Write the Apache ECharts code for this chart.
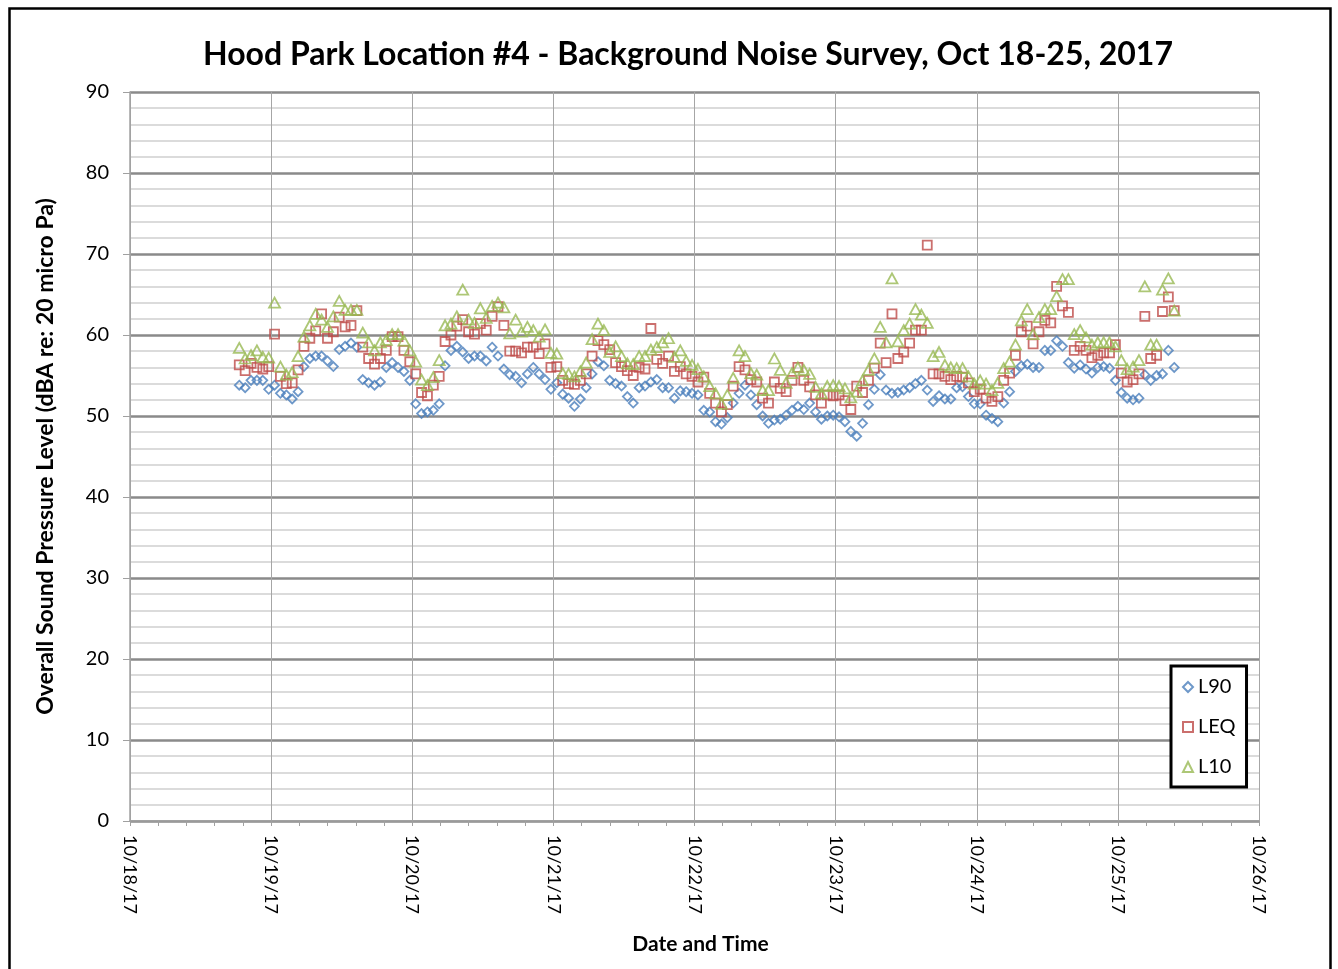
<!DOCTYPE html>
<html>
<head>
<meta charset="utf-8">
<script src="https://cdn.jsdelivr.net/npm/echarts@6/dist/echarts.min.js"></script>
<style>
  html, body { margin: 0; padding: 0; background: #fff; }
  #chart { width: 1338px; height: 969px; }
</style>
</head>
<body>
<div id="chart"></div>
<script>
// Axis tick labels (one per day, 10/18 through 10/26)
const dateLabels = ['10/18/17', '10/19/17', '10/20/17', '10/21/17', '10/22/17',
                    '10/23/17', '10/24/17', '10/25/17', '10/26/17'];

// First reading: 10/18/17 18:35, then one reading per hour
const firstReadingHour = 18 + 35 / 60;

// Hourly sound levels, dBA
const L90 = [
  53.8, 53.5, 54.4, 54.4, 54.4, 53.3, 53.8, 52.8, 52.6, 52.1,
  53.0, 56.1, 57.1, 57.4, 57.4, 56.8, 56.1, 58.2, 58.6, 59.0,
  58.5, 54.5, 54.1, 53.8, 54.2, 56.0, 56.6, 56.0, 55.5, 54.4,
  51.5, 50.3, 50.5, 50.7, 51.5, 56.2, 58.1, 58.6, 57.9, 57.1,
  57.4, 57.4, 56.8, 58.5, 57.4, 55.8, 55.1, 54.9, 54.1, 55.2,
  56.0, 55.2, 54.5, 53.3, 54.1, 52.7, 52.2, 51.2, 52.1, 53.5,
  55.2, 56.7, 56.2, 54.4, 54.0, 53.7, 52.4, 51.6, 53.5, 53.7,
  54.2, 54.5, 53.5, 53.5, 52.2, 53.1, 53.0, 52.8, 52.6, 50.7,
  50.5, 49.3, 49.0, 49.8, 51.6, 52.8, 53.8, 52.6, 51.4, 50.0,
  49.1, 49.5, 49.6, 50.1, 50.7, 51.2, 50.8, 51.6, 50.5, 49.6,
  50.0, 50.1, 49.9, 49.3, 48.1, 47.5, 49.1, 51.4, 53.3, 55.1,
  53.2, 52.8, 52.9, 53.2, 53.5, 54.0, 54.4, 53.2, 51.8, 52.5,
  52.1, 52.1, 53.5, 53.6, 52.4, 51.5, 51.5, 50.1, 49.7, 49.3,
  51.6, 53.0, 55.5, 56.2, 56.4, 56.0, 56.0, 58.1, 58.1, 59.3,
  58.6, 56.6, 55.9, 56.3, 55.8, 55.3, 56.0, 56.1, 55.9, 54.4,
  52.9, 52.2, 52.0, 52.2, 55.1, 54.4, 55.0, 55.2, 58.1, 56.0
];

const LEQ = [
  56.3, 55.6, 56.5, 56.0, 55.8, 56.1, 60.1, 54.9, 54.0, 54.1,
  55.7, 58.6, 59.6, 60.5, 62.6, 59.6, 60.4, 62.2, 61.0, 61.2,
  63.0, 58.5, 57.1, 56.4, 57.1, 58.1, 59.8, 59.8, 58.1, 56.7,
  55.2, 52.9, 52.5, 53.8, 54.9, 59.2, 60.0, 61.1, 61.9, 60.4,
  60.1, 61.4, 60.6, 62.3, 63.5, 61.2, 58.0, 58.0, 57.8, 58.5,
  58.5, 57.7, 58.9, 56.0, 56.1, 54.4, 54.0, 53.9, 54.4, 55.2,
  57.4, 59.3, 58.8, 58.2, 56.6, 56.1, 55.6, 55.0, 56.0, 55.8,
  60.8, 57.0, 56.5, 57.4, 55.5, 56.1, 55.2, 54.9, 54.2, 54.8,
  52.8, 51.6, 50.5, 51.4, 53.7, 56.1, 55.7, 54.5, 54.2, 52.2,
  51.6, 54.2, 53.4, 53.0, 54.4, 56.0, 54.4, 53.6, 52.6, 51.6,
  52.6, 52.5, 52.6, 51.9, 50.8, 53.7, 52.9, 54.4, 55.9, 59.0,
  56.6, 62.6, 57.1, 57.9, 59.0, 60.6, 60.6, 71.1, 55.2, 55.2,
  54.9, 54.5, 54.9, 54.8, 54.1, 53.0, 53.3, 52.2, 51.8, 52.4,
  54.4, 55.3, 57.5, 60.4, 61.1, 58.9, 60.4, 61.8, 61.5, 66.0,
  63.6, 62.8, 58.1, 58.6, 58.1, 57.2, 57.5, 57.8, 57.8, 58.8,
  55.3, 54.2, 54.5, 55.2, 62.3, 57.1, 57.5, 62.9, 64.7, 63.0
];

const L10 = [
  58.4, 57.1, 57.5, 58.1, 57.3, 57.2, 64.0, 56.1, 55.1, 55.4,
  57.4, 59.8, 61.2, 62.6, 61.9, 61.0, 62.3, 64.2, 63.1, 63.1,
  63.1, 60.3, 59.1, 58.1, 59.1, 59.4, 60.1, 60.1, 59.3, 58.1,
  56.7, 54.5, 53.8, 54.8, 56.9, 61.2, 61.4, 62.3, 65.6, 61.9,
  61.5, 63.3, 62.1, 63.6, 64.0, 63.4, 60.2, 61.9, 60.4, 61.0,
  60.6, 59.8, 60.7, 57.8, 57.7, 55.3, 55.2, 54.9, 55.5, 56.6,
  59.5, 61.4, 60.6, 57.9, 58.6, 57.4, 56.5, 56.4, 57.4, 57.4,
  58.2, 58.5, 59.1, 59.6, 57.3, 58.1, 56.8, 56.3, 55.8, 54.9,
  53.7, 52.8, 51.5, 52.6, 54.7, 58.1, 57.4, 55.3, 55.1, 53.2,
  53.2, 57.1, 55.7, 54.1, 55.3, 56.0, 55.7, 55.2, 53.6, 52.8,
  53.7, 53.8, 53.7, 53.4, 52.3, 53.0, 54.4, 55.7, 57.1, 61.0,
  59.1, 67.0, 59.2, 60.6, 61.4, 63.2, 62.5, 61.5, 57.4, 57.9,
  56.3, 56.0, 55.9, 55.9, 54.9, 54.0, 54.4, 54.0, 53.2, 54.1,
  55.9, 56.7, 58.8, 61.8, 63.2, 60.1, 62.2, 63.2, 63.2, 64.8,
  66.9, 66.9, 60.1, 60.6, 59.7, 58.8, 59.1, 59.1, 59.1, 58.6,
  56.9, 55.8, 56.1, 56.9, 66.0, 58.8, 58.8, 65.6, 67.0, 63.0
];

// x position in days since 10/18/17 00:00
function toPoints(values) {
  return values.map((v, i) => [(firstReadingHour + i) / 24, v]);
}

const FONT = 'Lato, "Open Sans", sans-serif';

function seriesOf(name, values, symbol, size, color) {
  return {
    name: name,
    type: 'scatter',
    data: toPoints(values),
    symbol: symbol,
    symbolSize: size,
    itemStyle: { color: 'transparent', borderColor: color, borderWidth: 1.8 },
    emphasis: { disabled: true },
    animation: false
  };
}

const chart = echarts.init(document.getElementById('chart'), null, { renderer: 'canvas' });

chart.setOption({
  backgroundColor: '#fff',
  animation: false,
  title: {
    text: 'Hood Park Location #4 - Background Noise Survey, Oct 18-25, 2017',
    left: 683,
    top: 34,
    textAlign: 'center',
    textStyle: { fontFamily: FONT, fontWeight: 'bold', fontSize: 32, color: '#000' }
  },
  graphic: [{
    type: 'rect',
    silent: true,
    shape: { x: 9.5, y: 8.5, width: 1321, height: 1000 },
    style: { fill: 'none', stroke: '#000', lineWidth: 2.5 }
  }],
  legend: {
    orient: 'vertical',
    left: 1171,
    top: 666,
    padding: [11, 11, 10, 11],
    itemGap: 20,
    itemWidth: 10,
    itemHeight: 10,
    borderColor: '#000',
    borderWidth: 3,
    backgroundColor: '#fff',
    textStyle: { fontFamily: FONT, fontSize: 20, color: '#000' },
    data: ['L90', 'LEQ', 'L10']
  },
  grid: { left: 130, right: 79, top: 92, bottom: 148, containLabel: false },
  xAxis: {
    type: 'value',
    min: 0,
    max: 8,
    interval: 1,
    name: 'Date and Time',
    nameLocation: 'middle',
    nameGap: 113,
    nameTextStyle: { fontFamily: FONT, fontWeight: 'bold', fontSize: 21, color: '#000', padding: [0, 0, 0, 12] },
    axisLine: { show: true, lineStyle: { color: '#a0a0a0', width: 1.5 } },
    axisTick: { show: true, length: 5, lineStyle: { color: '#a0a0a0' } },
    minorTick: { show: true, splitNumber: 5, length: 5, lineStyle: { color: '#a0a0a0' } },
    splitLine: { show: true, lineStyle: { color: '#a6a6a6', width: 1 } },
    axisLabel: {
      rotate: -90,
      margin: 14,
      fontFamily: FONT,
      fontSize: 18,
      color: '#000',
      formatter: (v) => dateLabels[Math.round(v)]
    }
  },
  yAxis: {
    type: 'value',
    min: 0,
    max: 90,
    interval: 10,
    name: 'Overall Sound Pressure Level (dBA re: 20 micro Pa)',
    nameLocation: 'middle',
    nameGap: 73,
    nameTextStyle: { fontFamily: FONT, fontWeight: 'bold', fontSize: 23, color: '#000' },
    axisLine: { show: true, lineStyle: { color: '#a0a0a0', width: 1.5 } },
    axisTick: { show: true, length: 7, lineStyle: { color: '#a0a0a0' } },
    splitLine: { show: true, lineStyle: { color: '#8a8a8a', width: 2.5 } },
    minorTick: { show: false, splitNumber: 5 },
    minorSplitLine: { show: true, lineStyle: { color: '#d0d0d0', width: 1.5 } },
    axisLabel: { margin: 21, fontFamily: FONT, fontSize: 20, color: '#000' }
  },
  series: [
    seriesOf('L90', L90, 'diamond', 9, '#4A7EBB'),
    seriesOf('LEQ', LEQ, 'rect', 9, '#BE4B48'),
    seriesOf('L10', L10, 'triangle', [11, 10], '#98B954')
  ]
});
</script>
</body>
</html>
